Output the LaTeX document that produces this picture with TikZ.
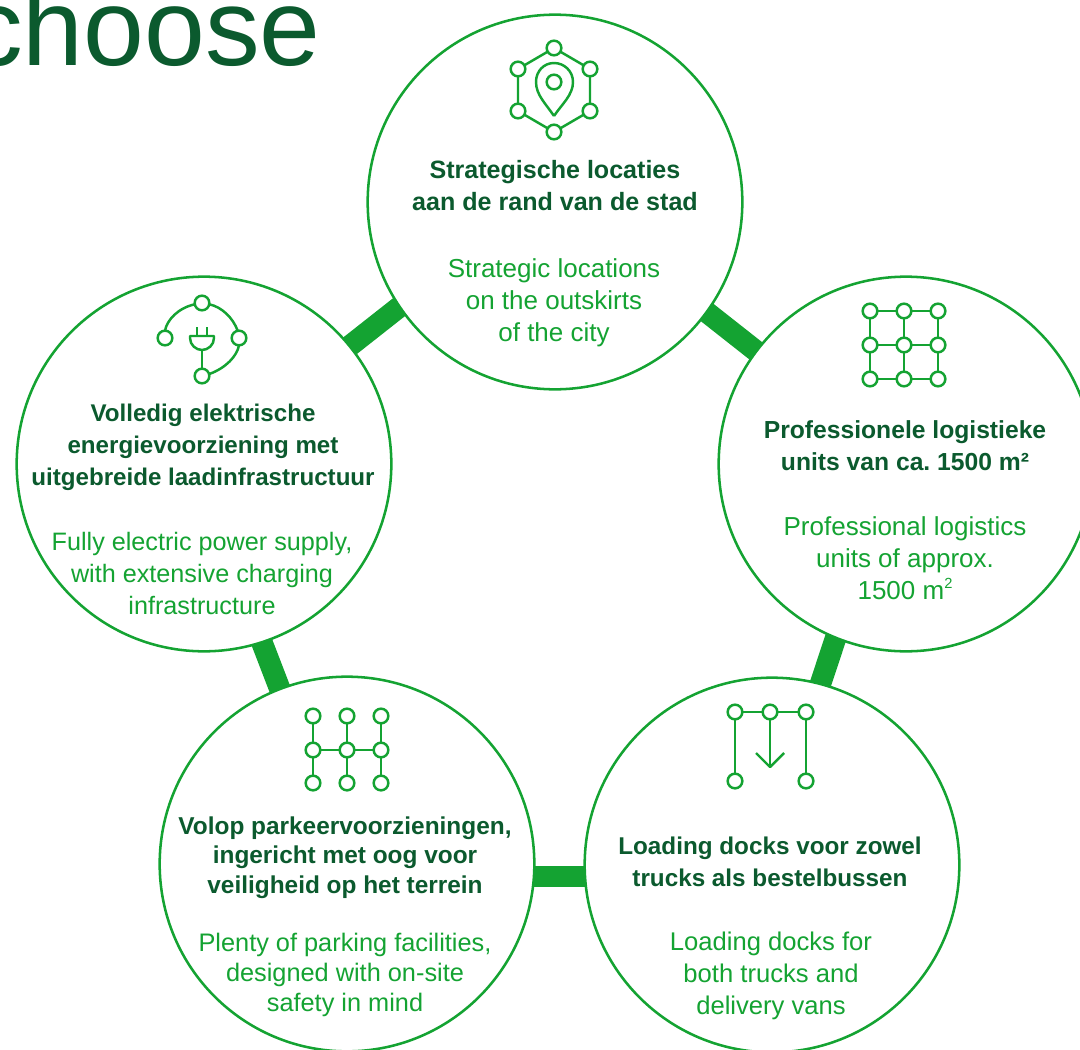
\documentclass[tikz,border=0pt]{standalone}
\usepackage{fontspec}
\setmainfont{Liberation Sans}
\definecolor{dk}{HTML}{0B5A2E}
\definecolor{lt}{HTML}{14A332}
\pgfdeclarelayer{bg}
\pgfsetlayers{bg,main}
\begin{document}
\begin{tikzpicture}[x=0.75pt,y=-0.75pt,
 bigc/.style={circle,draw=lt,line width=1.9pt,fill=white,minimum size=281pt,inner sep=0pt},
 link/.style={draw=lt,line width=16.1pt,line cap=butt,shorten <=-6pt,shorten >=-6pt},
 ico/.style={draw=lt,line width=1.85pt,line join=round},
 dot/.style={circle,draw=lt,line width=1.85pt,minimum size=11pt,inner sep=0pt,outer sep=0pt},
 nl/.style={align=center,inner sep=0pt,text=dk,font=\fontsize{#1}{24}\selectfont\bfseries\frenchspacing},
 el/.style={align=center,inner sep=0pt,text=lt,font=\fontsize{#1}{24}\selectfont\frenchspacing},
 nlb/.style={align=center,inner sep=0pt,text=dk,font=\fontsize{#1}{22.3}\selectfont\bfseries\frenchspacing},
 elb/.style={align=center,inner sep=0pt,text=lt,font=\fontsize{#1}{22.3}\selectfont\frenchspacing}]
\useasboundingbox (0,0) rectangle (1080,1049);
\clip (0,0) rectangle (1080,1049);
\node[anchor=base east,inner sep=0pt,text=dk,font=\fontsize{82}{90}\selectfont] (title) at (321,65) {choose};
\node[bigc] (ct) at (555,202) {};
\node[bigc] (cr) at (906,464) {};
\node[bigc] (cl) at (204,464) {};
\node[bigc] (cbl) at (347,864) {};
\node[bigc] (cbr) at (772,865) {};
\coordinate (linky) at (0,876.5);
\begin{pgfonlayer}{bg}
\path[link] (ct.-36) -- (cr.143);
\path[link] (ct.214.5) -- (cl.39);
\path[link] (cr.-112) -- (cbr.75.4);
\path[link] (cl.-72.1) -- (cbl.111.8);
\path[link] (cbl.east |- linky) -- (cbr.west |- linky);
\end{pgfonlayer}
% texts
\node[nl=18.8] (t1) at (555,186) {Strategische locaties\\aan de rand van de stad};
\node[el=19.5] (e1) at (554,303) {Strategic locations\\on the outskirts\\of the city};
\node[nl=18.1] (t2) at (203,447.5) {Volledig elektrische\\energievoorziening met\\uitgebreide laadinfrastructuur};
\node[el=18.9] (e2) at (202,573.5) {Fully electric power supply,\\with extensive charging\\infrastructure};
\node[nl=18.5] (t3) at (905,446) {Professionele logistieke\\units van ca. 1500 m²};
\node[el=19.5] (e3) at (905,558) {Professional logistics\\units of approx.\\1500 m\raisebox{0.42em}{\fontsize{11}{11}\selectfont 2}};
\node[nlb=18.3] (t4) at (345,857.5) {Volop parkeervoorzieningen,\\ingericht met oog voor\\veiligheid op het terrein};
\node[elb=19] (e4) at (345,975) {Plenty of parking facilities,\\designed with on-site\\safety in mind};
\node[nl=18.2] (t5) at (770,862) {Loading docks voor zowel\\trucks als bestelbussen};
\node[el=19.2] (e5) at (771,975.5) {Loading docks for\\both trucks and\\delivery vans};
% icon top
\foreach \n/\x/\y in {a/554/48,b/590/69,c/590/111,d/554/132,e/518/111,f/518/69}
  \node[dot] (i1\n) at (\x,\y) {};
\draw[ico] (i1a)--(i1b) (i1b)--(i1c) (i1c)--(i1d) (i1d)--(i1e) (i1e)--(i1f) (i1f)--(i1a);
\node[dot] (i1p) at (554,82) {};
\coordinate (pintip) at (554,116);
\draw[ico] (pintip) .. controls (546,104) and (536,95) .. (536,82) .. controls (536,71) and (544,63) .. (554,63) .. controls (564,63) and (573,71) .. (573,82) .. controls (573,95) and (562,104) .. (pintip);
% icon left
\node[dot] (i2t) at (202,303) {};
\node[dot] (i2l) at (165,338) {};
\node[dot] (i2r) at (239,338) {};
\node[dot] (i2b) at (202,376) {};
\draw[ico] (i2l.90) .. controls (167,320) and (178,308) .. (i2t.190);
\draw[ico] (i2t.-10) .. controls (222,307) and (233,318) .. (i2r.100);
\draw[ico] (i2r.-90) .. controls (237,356) and (226,368) .. (i2b.15);
\coordinate (plug) at (202,350);
\draw[ico] (plug) -- (i2b.90);
\draw[ico] (190,336) -- (214,336) -- (214,338) .. controls (214,345) and (208,350) .. (plug) .. controls (196,350) and (190,345) .. (190,338) -- cycle;
\draw[ico] (197,327) -- (197,336) (207,327) -- (207,336);
% icon right
\foreach \i/\x in {1/870,2/904,3/938} \foreach \j/\y in {1/311,2/345,3/379}
  \node[dot] (i3\i\j) at (\x,\y) {};
\foreach \a/\b in {11/21,21/31,12/22,22/32,13/23,23/33,11/12,12/13,21/22,22/23,31/32,32/33}
  \draw[ico] (i3\a) -- (i3\b);
% icon bottom right
\node[dot] (i4a) at (735,712) {};
\node[dot] (i4b) at (770,712) {};
\node[dot] (i4c) at (806,712) {};
\node[dot] (i4d) at (735,781) {};
\node[dot] (i4e) at (806,781) {};
\coordinate (i4tip) at (770,767);
\draw[ico] (i4a)--(i4b) (i4b)--(i4c) (i4a)--(i4d) (i4c)--(i4e) (i4b)--(i4tip);
\draw[ico] (756,753) -- (i4tip) -- (784,753);
% icon bottom left
\foreach \i/\x in {1/313,2/347,3/381} \foreach \j/\y in {1/716,2/750,3/783}
  \node[dot] (i5\i\j) at (\x,\y) {};
\foreach \a/\b in {11/12,12/13,21/22,22/23,31/32,32/33,12/22,22/32}
  \draw[ico] (i5\a) -- (i5\b);
\end{tikzpicture}
\end{document}
